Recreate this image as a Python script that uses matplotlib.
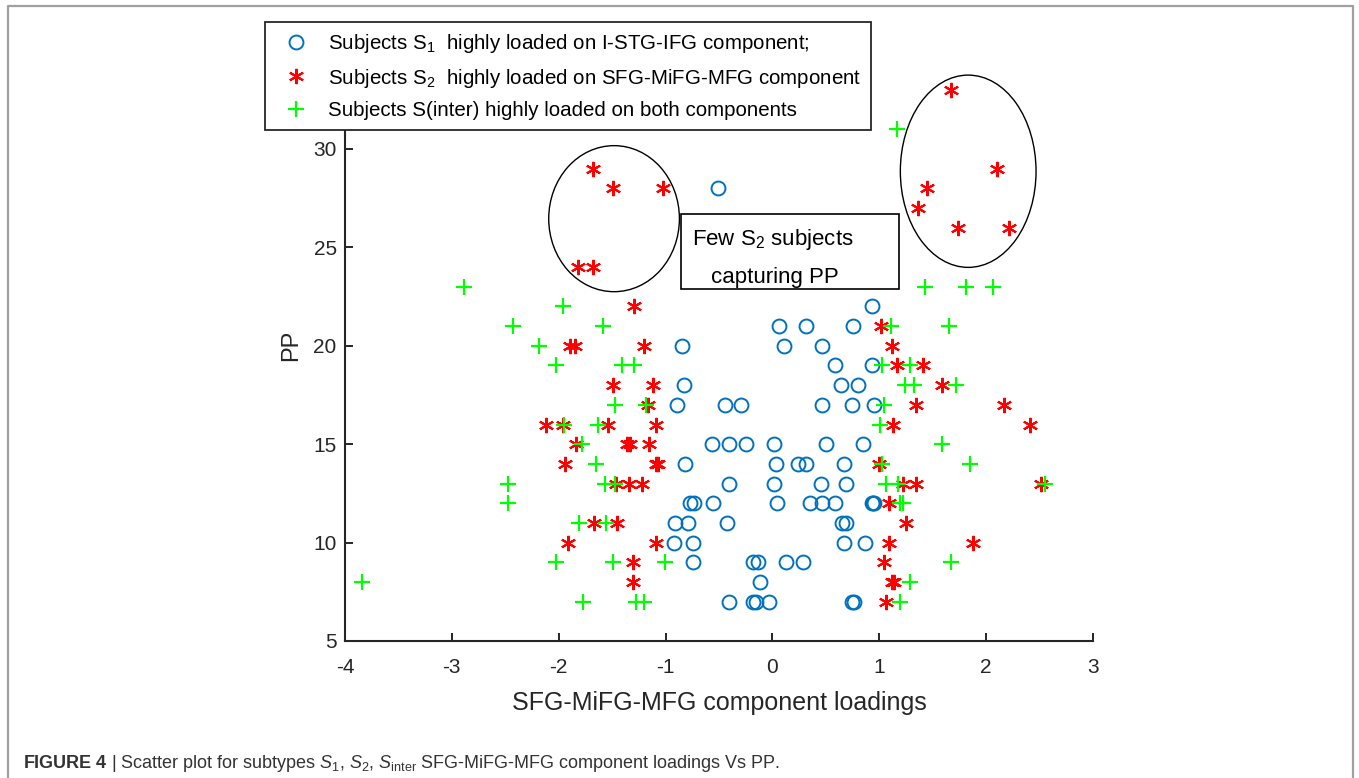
#!/usr/bin/env python3
"""Scatter of subtype loadings (SFG-MiFG-MFG) against PP."""

import matplotlib
matplotlib.use("Agg")
import matplotlib.pyplot as plt
from matplotlib.patches import Ellipse, Rectangle
from matplotlib.lines import Line2D

plt.rcParams["font.family"] = ["Liberation Sans", "DejaVu Sans"]
plt.rcParams["mathtext.fontset"] = "custom"
plt.rcParams["mathtext.rm"] = "Liberation Sans"
plt.rcParams["mathtext.it"] = "Liberation Sans:italic"
plt.rcParams["mathtext.bf"] = "Liberation Sans:bold"
plt.rcParams["axes.unicode_minus"] = False

# S1 subjects (blue circles)
s1_x = [-0.51, 0.935, 0.06, 0.318, 0.75, -0.845, 0.106, 0.465, 0.59, 0.933,
        -0.83, 0.643, 0.80, -0.89, -0.44, -0.293, 0.465, 0.74, 0.955,
        -0.565, -0.41, -0.247, 0.013, 0.497, 0.85,
        -0.814, 0.03, 0.24, 0.318, 0.674,
        -0.41, 0.013, 0.45, 0.69,
        -0.767, -0.736, -0.555, 0.044, 0.35, 0.465, 0.59, 0.93, 0.945, 0.955,
        -0.908, -0.79, -0.424, 0.652, 0.69,
        -0.924, -0.746, 0.674, 0.864,
        -0.746, -0.18, -0.137, 0.128, 0.284,
        -0.119,
        -0.409, -0.18, -0.15, -0.035, 0.746, 0.768]
s1_y = [28, 22, 21, 21, 21, 20, 20, 20, 19, 19,
        18, 18, 18, 17, 17, 17, 17, 17, 17,
        15, 15, 15, 15, 15, 15,
        14, 14, 14, 14, 14,
        13, 13, 13, 13,
        12, 12, 12, 12, 12, 12, 12, 12, 12, 12,
        11, 11, 11, 11, 11,
        10, 10, 10, 10,
        9, 9, 9, 9, 9,
        8,
        7, 7, 7, 7, 7, 7]

# S2 subjects (red stars)
s2_x = [-1.68, -1.49, -1.02, -1.82, -1.68,
        1.67, 2.10, 1.45, 1.36, 1.74, 2.21,
        -1.30, 1.02,
        -1.89, -1.85, -1.204, 1.12,
        1.167, 1.41,
        -1.49, -1.117, 1.59,
        -1.16, 1.34, 2.165,
        -2.115, -1.96, -1.54, -1.086, 1.126, 2.415,
        -1.834, -1.36, -1.33, -1.158,
        -1.937, -1.09, -1.07, 1.00,
        -1.46, -1.344, -1.22, 1.22, 1.348, 2.51,
        1.095,
        -1.666, -1.454, 1.254,
        -1.91, -1.086, 1.095, 1.878,
        -1.307, 1.042,
        -1.307, 1.12, 1.14,
        1.067]
s2_y = [29, 28, 28, 24, 24,
        33, 29, 28, 27, 26, 26,
        22, 21,
        20, 20, 20, 20,
        19, 19,
        18, 18, 18,
        17, 17, 17,
        16, 16, 16, 16, 16, 16,
        15, 15, 15, 15,
        14, 14, 14, 14,
        13, 13, 13, 13, 13, 13,
        12,
        11, 11, 11,
        10, 10, 10, 10,
        9, 9,
        8, 8, 8,
        7]

# S(inter) subjects (green plus)
si_x = [1.17,
        -2.89, 1.43, 1.81, 2.06,
        -1.96,
        -2.43, -1.585, 1.114, 1.657,
        -2.18,
        -2.03, -1.41, -1.30, 1.026, 1.285,
        1.245, 1.323, 1.72,
        -1.476, -1.18, 1.04,
        -1.95, -1.63, 1.01,
        -1.78, 1.59,
        -1.65, 1.03, 1.853,
        -2.47, -1.563, -1.47, 1.06, 1.177, 2.555,
        -2.47, 1.19, 1.22,
        -1.81, -1.556,
        -2.03, -1.49, -1.001, 1.675,
        -3.84, 1.292,
        -1.775, -1.276, -1.204, 1.19]
si_y = [31,
        23, 23, 23, 23,
        22,
        21, 21, 21, 21,
        20,
        19, 19, 19, 19, 19,
        18, 18, 18,
        17, 17, 17,
        16, 16, 16,
        15, 15,
        14, 14, 14,
        13, 13, 13, 13, 13, 13,
        12, 12, 12,
        11, 11,
        9, 9, 9, 9,
        8, 8,
        7, 7, 7, 7]

labels = ["Subjects S$_1$  highly loaded on I-STG-IFG component;",
          "Subjects S$_2$  highly loaded on SFG-MiFG-MFG component",
          "Subjects S(inter) highly loaded on both components"]

W, H = 1359, 778
fig = plt.figure(figsize=(W / 100, H / 100), dpi=100)
ax = fig.add_axes([345 / W, 1 - 641 / H, (1093 - 345) / W, (641 - 50.6) / H])

ax.plot(s1_x, s1_y, "o", ms=10, mfc="none", mec="#0072BD", mew=1.4, label=labels[0])
ax.plot(s2_x, s2_y, ls="none", marker=(6, 2, 0), ms=11, mec="red", mew=1.5, label=labels[1])
ax.plot(si_x, si_y, "+", ms=12, mec="#00ff00", mew=1.6, label=labels[2])

# circled groups and note
ax.add_patch(Ellipse((-1.482, 26.46), 1.223, 7.42, fill=False, ec="black", lw=1))
ax.add_patch(Ellipse((1.832, 28.87), 1.27, 9.77, fill=False, ec="black", lw=1))
ax.add_patch(Rectangle((-0.854, 22.87), 2.036, 3.81, fill=False, ec="black", lw=1.2))
ax.text(-0.749, 25.12, "Few S$_2$ subjects", fontsize=16, va="baseline")
ax.text(-0.574, 23.19, "capturing PP", fontsize=16, va="baseline")

ax.set_xlim(-4, 3)
ax.set_ylim(5, 35)
ax.set_xticks(range(-4, 4))
ax.set_yticks(range(5, 31, 5))
for s in ["top", "right"]:
    ax.spines[s].set_visible(False)
for s in ["left", "bottom"]:
    ax.spines[s].set_color("#262626")
    ax.spines[s].set_linewidth(1.5)
ax.tick_params(direction="in", length=6, width=1.4, colors="#262626", labelsize=15)
ax.tick_params(axis="x", pad=12)
ax.tick_params(axis="y", pad=6)
ax.set_xlabel("SFG-MiFG-MFG component loadings", fontsize=18, color="#262626", labelpad=10)
ax.set_ylabel("PP", fontsize=17, color="#262626", labelpad=8)

leg = ax.legend(loc="upper left", bbox_to_anchor=(265 / W, 1 - 22 / H),
                bbox_transform=fig.transFigure, borderaxespad=0, fontsize=14.8,
                fancybox=False, framealpha=1, edgecolor="#262626",
                handlelength=2.0, handletextpad=0.55, labelspacing=0.55,
                borderpad=0.5)
leg.get_frame().set_linewidth(1.3)

# journal frame and caption
fig.add_artist(Line2D([7.5 / W, 7.5 / W, 1353 / W, 1353 / W],
                      [0, 1 - 5.5 / H, 1 - 5.5 / H, 0], color="#a0a0a0", lw=1.6))
fig.text(23 / W, 1 - 768 / H,
         r"$\mathbf{FIGURE\ 4}$ | Scatter plot for subtypes $S_1$, $S_2$, "
         r"$S_{\mathrm{inter}}$ SFG-MiFG-MFG component loadings Vs PP.",
         fontsize=13, va="baseline", color="#333333")

fig.savefig("out.png", dpi=100)
